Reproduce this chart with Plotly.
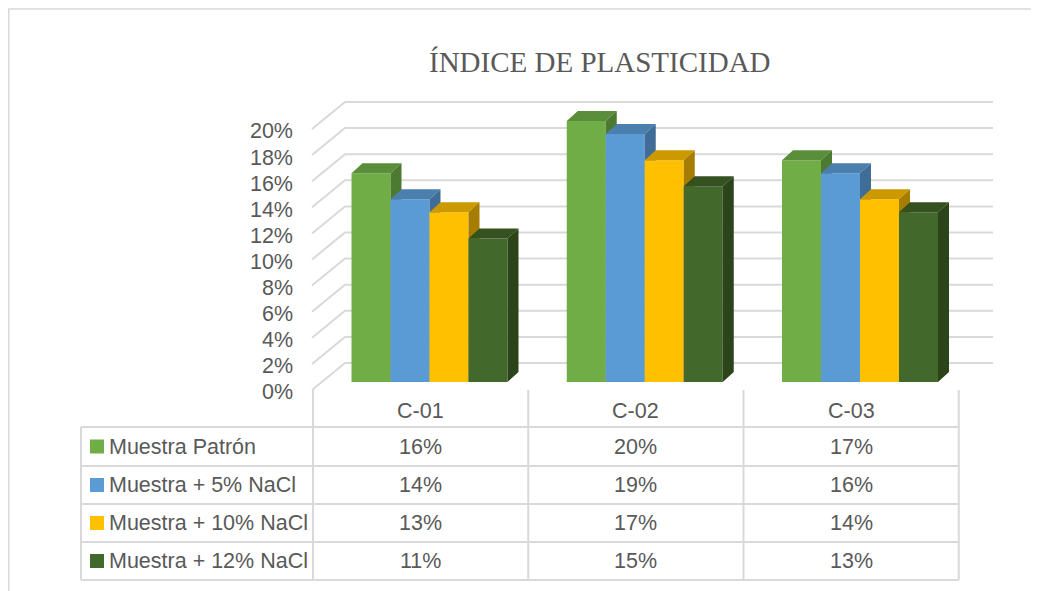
import plotly.graph_objects as go

# ---------------- data ----------------
categories = ["C-01", "C-02", "C-03"]
series_names = ["Muestra Patrón", "Muestra + 5% NaCl", "Muestra + 10% NaCl", "Muestra + 12% NaCl"]
patron = [16, 20, 17]
nacl_5 = [14, 19, 16]
nacl_10 = [13, 17, 14]
nacl_12 = [11, 15, 13]
series_values = [patron, nacl_5, nacl_10, nacl_12]
tick_values = [0, 2, 4, 6, 8, 10, 12, 14, 16, 18, 20]
tick_labels = ["0%", "2%", "4%", "6%", "8%", "10%", "12%", "14%", "16%", "18%", "20%"]
title_text = "ÍNDICE DE PLASTICIDAD"

# ---------------- style ----------------
front_colors = ["#70AD47", "#5B9BD5", "#FFC000", "#43682B"]
top_colors = ["#5B8E3B", "#4A7FAE", "#CC9A00", "#34511F"]
side_colors = ["#4C7A30", "#3F6D97", "#A67D00", "#2B4419"]
TEXT = "#595959"
GRID = "#D9D9D9"
FONT = "Liberation Sans"
FS = 21.5

PAGE_OFF = 8                      # browser body margin
W, H = 1039 - PAGE_OFF, 591 - PAGE_OFF
X_PX0, X_SCALE = 429.5, 215.25   # screen px of first category centre, px per category
Y_PX0, Y_SCALE = 382.0, 13.05    # screen px of value 0 (bar plane), px per percent


def ux(px):
    return (px - X_PX0) / X_SCALE


def uy(px):
    return (Y_PX0 - px) / Y_SCALE


def paper_x(px):
    return (px - PAGE_OFF) / W


def paper_y(px):
    return 1 - (px - PAGE_OFF) / H


BAR_W = 39 / X_SCALE
DX = 11 / X_SCALE
DY = 10 / Y_SCALE
FRONT = uy(390)
BACK = uy(363)

fig = go.Figure()

# gridlines (side wall diagonals + back wall)
gx, gy = [], []
for t in tick_values:
    gx += [ux(312), ux(345), ux(993), None]
    gy += [t + FRONT, t + BACK, t + BACK, None]
fig.add_trace(go.Scatter(x=gx, y=gy, mode="lines", line=dict(color=GRID, width=2),
                         hoverinfo="skip", showlegend=False))

# 3D bars
n = len(series_values)
for k, vals in enumerate(series_values):
    fx, fy, tx, ty, sx, sy = [], [], [], [], [], []
    for i, v in enumerate(vals):
        x0 = i - n / 2 * BAR_W + k * BAR_W
        x1 = x0 + BAR_W
        fx += [x0, x1, x1, x0, x0, None]
        fy += [0, 0, v, v, 0, None]
        tx += [x0, x1, x1 + DX, x0 + DX, x0, None]
        ty += [v, v, v + DY, v + DY, v, None]
        sx += [x1, x1 + DX, x1 + DX, x1, x1, None]
        sy += [0, DY, v + DY, v, 0, None]
    for xs, ys, col in ((fx, fy, front_colors[k]), (tx, ty, top_colors[k]), (sx, sy, side_colors[k])):
        fig.add_trace(go.Scatter(x=xs, y=ys, mode="lines", fill="toself", fillcolor=col,
                                 line=dict(width=0, color=col), hoverinfo="skip",
                                 showlegend=False, name=series_names[k]))

shapes = []
annotations = []

# chart border
shapes.append(dict(type="rect", xref="paper", yref="paper", x0=0.8 / W, x1=1.02,
                   y0=-0.02, y1=paper_y(9), line=dict(color=GRID, width=1.5)))

# title
annotations.append(dict(text=title_text, xref="paper", yref="paper", x=paper_x(600), y=paper_y(62),
                        showarrow=False, xanchor="center", yanchor="middle",
                        font=dict(family="Liberation Serif", size=29, color=TEXT)))

# data table
col_left = ux(313)
row_lines = [427, 466, 504, 542, 580]
table_left = ux(81)
table_right = col_left + len(categories)
for ry in row_lines:
    shapes.append(dict(type="line", xref="x", yref="y", x0=table_left, x1=table_right,
                       y0=uy(ry), y1=uy(ry), line=dict(color=GRID, width=2)))
shapes.append(dict(type="line", xref="x", yref="y", x0=table_left, x1=table_left,
                   y0=uy(row_lines[0]), y1=uy(row_lines[-1]), line=dict(color=GRID, width=2)))
for j in range(len(categories) + 1):
    xb = col_left + j
    shapes.append(dict(type="line", xref="x", yref="y", x0=xb, x1=xb,
                       y0=uy(390), y1=uy(row_lines[-1]), line=dict(color=GRID, width=2)))

for i, c in enumerate(categories):
    annotations.append(dict(text=c, xref="x", yref="y", x=col_left + i + 0.5, y=uy(411),
                            showarrow=False, xanchor="center", yanchor="middle",
                            font=dict(family=FONT, size=FS, color=TEXT)))

for k, name in enumerate(series_names):
    yc = uy((row_lines[k] + row_lines[k + 1]) / 2)
    shapes.append(dict(type="rect", xref="x", yref="y", x0=ux(90), x1=ux(104),
                       y0=yc - 7 / Y_SCALE, y1=yc + 7 / Y_SCALE,
                       fillcolor=front_colors[k], line=dict(width=0)))
    annotations.append(dict(text=name, xref="x", yref="y", x=ux(107), y=yc,
                            showarrow=False, xanchor="left", yanchor="middle",
                            font=dict(family=FONT, size=FS, color=TEXT)))
    for i, v in enumerate(series_values[k]):
        annotations.append(dict(text=f"{v}%", xref="x", yref="y", x=col_left + i + 0.5, y=yc,
                                showarrow=False, xanchor="center", yanchor="middle",
                                font=dict(family=FONT, size=FS, color=TEXT)))

yr = [uy(PAGE_OFF + H), uy(PAGE_OFF)]
LABEL_OFF = FRONT - 0.15
fig.update_layout(
    width=W, height=H,
    margin=dict(l=0, r=0, t=0, b=0),
    paper_bgcolor="white", plot_bgcolor="white",
    showlegend=False,
    xaxis=dict(range=[ux(PAGE_OFF), ux(PAGE_OFF + W)], visible=False, fixedrange=True),
    yaxis=dict(range=yr, visible=False, fixedrange=True),
    yaxis2=dict(range=[yr[0] - LABEL_OFF, yr[1] - LABEL_OFF], overlaying="y", anchor="free",
                position=paper_x(293), side="left", showgrid=False, zeroline=False, showline=False,
                tickvals=tick_values, ticktext=tick_labels, ticks="",
                tickfont=dict(family=FONT, size=FS, color=TEXT), fixedrange=True),
    shapes=shapes,
    annotations=annotations,
)
# invisible trace so that yaxis2 is rendered
fig.add_trace(go.Scatter(x=[None], y=[None], yaxis="y2", showlegend=False, hoverinfo="skip"))

fig.write_html("out.html")
